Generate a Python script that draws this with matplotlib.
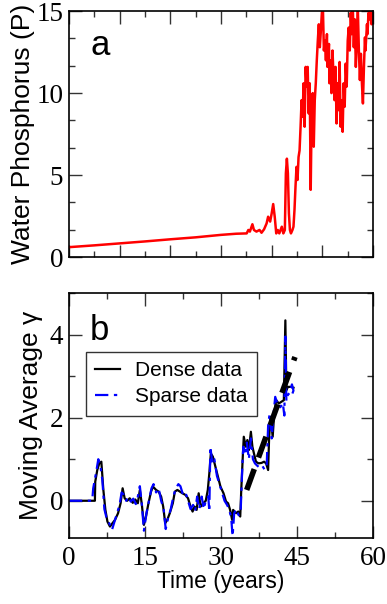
import matplotlib
matplotlib.use("Agg")
import matplotlib.pyplot as plt
from matplotlib.ticker import MultipleLocator

# ---- Panel a: water phosphorus ----
t_a = [0, 5, 10, 15, 20, 25, 30, 33, 35.07, 35.4, 35.7, 36.2, 36.5, 37.0, 37.6, 38.0, 38.5, 39.0, 39.3,
       39.7, 40.0, 40.3, 40.6, 40.9, 41.2, 41.5, 42.0, 42.3, 42.6, 42.8, 43.0, 43.2, 43.4, 43.6, 43.8,
       44.1, 44.3, 44.5, 44.7, 44.9, 45.1, 45.3, 45.5, 45.7, 45.9, 46.1, 46.3, 46.5, 46.7, 46.9, 47.1,
       47.3, 47.5, 47.7, 47.9, 48.1, 48.3, 48.5, 48.7, 48.9, 49.1, 49.3, 49.5, 49.7, 49.9, 50.1, 50.3,
       50.5, 50.7, 50.9, 51.0, 51.3, 51.4, 51.6, 51.8, 52.0, 52.2, 52.4, 52.6, 52.8, 53.0, 53.2, 53.4,
       53.6, 53.8, 54.0, 54.2, 54.4, 54.6, 54.8, 55.0, 55.2, 55.4, 55.6, 55.8, 56.0, 56.2, 56.4, 56.6,
       56.8, 57.0, 57.2, 57.4, 57.6, 57.8, 58.0, 58.2, 58.4, 58.5, 58.8, 58.9, 59.1, 59.3, 59.5, 59.7,
       59.9, 60.0]
p_a = [0.6, 0.71, 0.83, 0.95, 1.08, 1.2, 1.35, 1.42, 1.44, 1.65, 1.55, 2.0, 1.65, 1.55, 1.65, 1.48, 1.69, 2.05, 2.46,
       2.16, 2.66, 3.23, 2.46, 1.44, 1.65, 1.44, 1.85, 1.44, 1.65, 5.1, 6.0, 5.1, 2.66, 1.65, 1.44,
       1.65, 1.85, 2.87, 4.3, 5.5, 4.7, 6.1, 6.5, 7.95, 9.57, 8.56, 10.6, 7.95, 11.6, 10.4, 11.6,
       8.76, 10.6, 4.1, 9.2, 10.0, 6.73, 9.57, 10.6, 12.0, 13.2, 14.2, 12.8, 13.8, 14.9, 15.3, 12.6,
       13.2, 12.0, 13.6, 11.6, 13.0, 10.6, 12.0, 10.0, 12.6, 11.0, 9.57, 11.6, 8.15, 10.6, 8.96, 11.9,
       7.95, 9.57, 7.64, 10.6, 9.17, 11.8, 10.4, 13.2, 14.0, 12.6, 14.9, 13.6, 15.3, 12.8, 14.5, 11.6,
       13.2, 15.1, 12.6, 10.8, 12.4, 10.6, 9.37, 11.6, 13.4, 12.6, 14.2, 13.6, 14.9, 14.5, 15.3, 14.2,
       14.9, 14.7]

# ---- Panel b: moving average gamma ----
t_dense = [0, 5.13, 5.2, 5.6, 6.0, 6.4, 6.8, 7.2, 7.6, 8.1, 8.6, 9.1, 9.7, 10.2, 10.6, 11.0, 11.5, 12.0,
           12.6, 13.1, 13.6, 14.0, 14.4, 14.8, 15.2, 15.7, 16.2, 16.6, 17.2, 17.7, 18.2, 18.6, 19.0, 19.4,
           19.9, 20.5, 20.9, 21.4, 21.9, 22.4, 23.0, 23.5, 24.0, 24.4, 24.8, 25.2, 25.6, 26.0, 26.5, 27.0,
           27.4, 27.7, 28.0, 28.4, 28.9, 29.4, 29.9, 30.5, 31.0, 31.4, 31.8, 32.2, 32.4, 33.0, 33.4, 33.8,
           34.0, 34.3, 34.5, 34.9, 35.2, 35.5, 35.9, 36.2, 36.5, 36.9, 37.4, 38.0, 38.5, 38.9, 39.3, 39.5,
           39.8, 40.2, 40.5, 40.9, 41.4, 41.9, 42.4, 42.7, 42.9, 43.2, 43.75, 44.3]
g_dense = [0, 0, 0.46, 0.74, 0.90, 0.94, 0.26, -0.22, -0.50, -0.62, -0.54, -0.46, -0.30, -0.06, 0.30, 0.06, 0.0, 0.06,
           -0.05, 0.03, -0.06, 0.26, -0.10, -0.58, -0.38, -0.06, 0.22, 0.34, 0.26, 0.22, 0.10, -0.14, -0.54, -0.46,
           -0.30, -0.06, 0.22, 0.26, 0.22, 0.18, 0.14, 0.06, -0.14, -0.26, -0.14, -0.22, 0.18, -0.14, -0.06, 0.0,
           0.26, 0.66, 1.14, 1.06, 0.82, 0.58, 0.34, 0.18, -0.02, -0.06, -0.22, -0.46, -0.22, -0.30, -0.26, -0.38,
           0.26, 1.06, 1.54, 1.30, 1.46, 1.22, 1.66, 1.30, 1.14, 0.94, 0.90, 0.91, 0.94, 0.90, 0.74, 1.54,
           2.02, 1.54, 2.10, 2.42, 2.34, 2.38, 2.42, 4.34, 2.66, 2.74, 2.74, 2.72]

t_sparse = [0, 4.6, 4.8, 5.4, 5.8, 6.2, 6.6, 7.0, 7.5, 8.0, 8.5, 9.0, 9.5, 10.0, 10.4, 10.8, 11.3, 11.7,
            12.2, 12.7, 13.2, 13.6, 14.0, 14.4, 14.8, 15.3, 15.8, 16.3, 16.7, 17.2, 17.7, 18.2, 18.7, 19.1,
            19.6, 20.1, 20.6, 21.1, 21.6, 22.0, 22.5, 23.0, 23.5, 24.0, 24.5, 24.9, 25.3, 25.7, 26.2, 26.6,
            27.0, 27.5, 27.7, 27.9, 28.3, 28.7, 29.2, 29.7, 30.2, 30.7, 31.2, 31.6, 32.0, 32.3, 32.6, 33.0,
            33.5, 33.9, 34.2, 34.4, 34.8, 35.1, 35.5, 35.9, 36.3, 36.7, 37.1, 37.6, 38.1, 38.6, 39.0, 39.3,
            39.6, 40.0, 40.3, 40.7, 41.2, 41.7, 42.2, 42.5, 42.7, 42.9, 43.2, 43.6, 44.0, 44.3, 44.0, 43.6]
g_sparse = [0, 0, 0.3, 0.7, 1.0, 0.85, 0.5, -0.2, -0.45, -0.55, -0.7, -0.5, -0.3, -0.1, 0.2, 0.15, 0.0, 0.1,
            -0.02, 0.05, -0.08, 0.1, 0.35, -0.1, -0.72, -0.3, 0.0, 0.3, 0.4, 0.2, 0.3, 0.0, -0.2, -0.68,
            -0.4, -0.2, 0.1, 0.3, 0.4, 0.35, 0.15, 0.2, 0.0, -0.2, -0.1, -0.25, 0.1, -0.2, 0.1, -0.2,
            0.0, 0.1, -0.26, 1.3, 0.9, 1.0, 0.6, 0.4, 0.2, 0.0, -0.1, -0.2, -0.4, -0.85, -0.3, -0.2,
            -0.35, -0.2, 0.8, 1.3, 1.1, 1.4, 1.0, 1.5, 1.0, 0.9, 0.85, 0.8, 0.85, 0.75, 0.8, 1.8,
            2.1, 1.5, 2.0, 2.5, 2.3, 2.25, 2.35, 2.05, 3.95, 2.4, 2.55, 2.6, 2.8, 2.65, 2.55, 2.6]

fit_t = [35.07, 44.6]
fit_g = [0.26, 3.46]

x_ticks_b = [0, 15, 30, 45, 60]

SERIF = "Liberation Serif"
SANS = "Liberation Sans"

fig = plt.figure(figsize=(3.87, 6.04), dpi=100)
ax_a = fig.add_axes([0.178, 0.5745, 0.786, 0.407])
ax_b = fig.add_axes([0.178, 0.109, 0.786, 0.406])

def style(ax):
    for s in ax.spines.values():
        s.set_linewidth(1.2)
    ax.tick_params(which="both", direction="in", top=True, right=True, width=1.0, color="#333333")
    ax.tick_params(which="major", length=9)
    ax.tick_params(which="minor", length=4.5)
    for lab in ax.get_xticklabels() + ax.get_yticklabels():
        lab.set_fontfamily(SERIF)
        lab.set_fontsize(19.5)

# Panel a
ax_a.plot(t_a, p_a, color="#ff0000", lw=1.8)
ax_a.set_xlim(0, 60)
ax_a.set_ylim(0, 15)
ax_a.xaxis.set_major_locator(MultipleLocator(10))
ax_a.xaxis.set_minor_locator(MultipleLocator(5))
ax_a.yaxis.set_major_locator(MultipleLocator(5))
ax_a.yaxis.set_minor_locator(MultipleLocator(5 / 3))
ax_a.set_xticklabels([])
ax_a.set_yticks([0, 5, 10, 15])
ax_a.set_yticklabels(["0", "5", "10", "15"])
style(ax_a)
ax_a.tick_params(axis="y", pad=4)
ax_a.set_ylabel("Water Phosphorus (P)", fontfamily=SANS, fontsize=19, labelpad=1)
ax_a.text(0.07, 0.82, "a", transform=ax_a.transAxes, fontfamily=SANS, fontsize=25, va="baseline")

# Panel b
ax_b.plot(t_dense, g_dense, color="black", lw=1.6, label="Dense data")
ax_b.plot(t_sparse, g_sparse, color="#0000ff", lw=1.6, ls=(0, (6, 2.5, 1.5, 2.5)), label="Sparse data")
ax_b.plot(fit_t, fit_g, color="black", lw=4, ls=(0, (4, 2.2)))
ax_b.set_xlim(0, 60)
ax_b.set_ylim(-0.9, 5)
ax_b.set_xticks(x_ticks_b)
ax_b.set_xticklabels([str(v) for v in x_ticks_b])
ax_b.xaxis.set_minor_locator(MultipleLocator(7.5))
ax_b.set_yticks([0, 2, 4])
ax_b.set_yticklabels(["0", "2", "4"])
ax_b.yaxis.set_minor_locator(MultipleLocator(1))
style(ax_b)
ax_b.tick_params(axis="y", pad=4)
ax_b.tick_params(axis="x", pad=6)
ax_b.set_ylabel("Moving Average \u03b3", fontfamily=SANS, fontsize=19, labelpad=5)
ax_b.set_xlabel("Time (years)", fontfamily=SANS, fontsize=16.5, labelpad=-1)
ax_b.text(0.07, 0.808, "b", transform=ax_b.transAxes, fontfamily=SANS, fontsize=25, va="baseline")
leg = ax_b.legend(loc="upper left", bbox_to_anchor=(0.056, 0.76), prop={"family": SANS, "size": 15},
                  frameon=True, fancybox=False, edgecolor="black", handlelength=1.2,
                  borderpad=0.45, labelspacing=0.35, handletextpad=0.7, borderaxespad=0)
leg.get_frame().set_linewidth(1.0)

fig.savefig("out.png", dpi=100)
